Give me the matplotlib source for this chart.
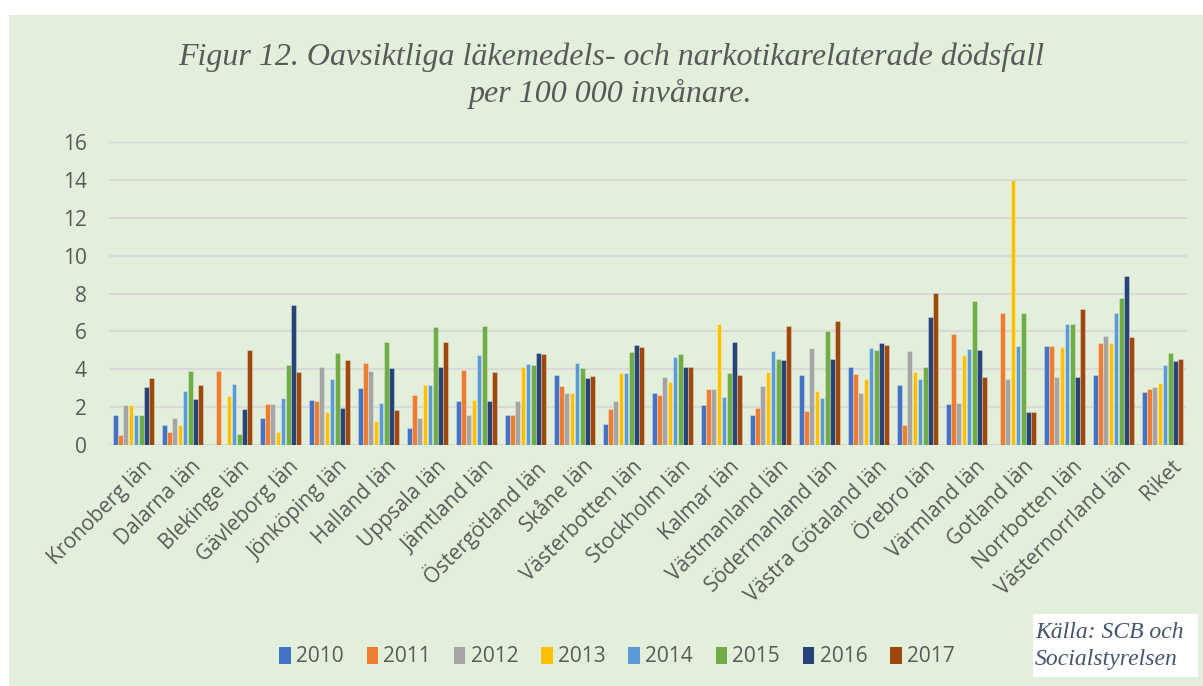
import matplotlib
matplotlib.use("Agg")
import matplotlib.pyplot as plt
import matplotlib.transforms as mtransforms
from matplotlib.patches import Rectangle, Patch
import numpy as np

categories = ["Kronoberg län", "Dalarna län", "Blekinge län", "Gävleborg län", "Jönköping län",
              "Halland län", "Uppsala län", "Jämtland län", "Östergötland län", "Skåne län",
              "Västerbotten län", "Stockholm län", "Kalmar län", "Västmanland län",
              "Södermanland län", "Västra Götaland län", "Örebro län", "Värmland län",
              "Gotland län", "Norrbotten län", "Västernorrland län", "Riket"]
years = ["2010", "2011", "2012", "2013", "2014", "2015", "2016", "2017"]

v2010 = [1.59, 1.06, 0.00, 1.42, 2.37, 3.01, 0.88, 2.34, 1.59, 3.68, 1.13, 2.73, 2.12, 1.56, 3.68, 4.11, 3.19, 2.18, 0.00, 5.23, 3.68, 2.81]
v2011 = [0.53, 0.71, 3.89, 2.16, 2.34, 4.32, 2.65, 3.96, 1.59, 3.12, 1.91, 2.62, 2.97, 1.95, 1.81, 3.75, 1.03, 5.86, 6.95, 5.23, 5.37, 2.98]
v2012 = [2.12, 1.42, 0.00, 2.16, 4.11, 3.93, 1.45, 1.56, 2.30, 2.76, 2.30, 3.58, 2.97, 3.12, 5.10, 2.73, 4.95, 2.21, 3.47, 3.61, 5.75, 3.05]
v2013 = [2.12, 1.06, 2.58, 0.71, 1.73, 1.27, 3.19, 2.37, 4.11, 2.73, 3.82, 3.33, 6.41, 3.86, 2.87, 3.47, 3.86, 4.74, 14.0, 5.19, 5.37, 3.30]
v2014 = [1.56, 2.87, 3.22, 2.48, 3.47, 2.23, 3.15, 4.74, 4.28, 4.35, 3.79, 4.64, 2.55, 4.96, 2.48, 5.13, 3.47, 5.09, 5.23, 6.39, 6.98, 4.25]
v2015 = [1.56, 3.89, 0.60, 4.25, 4.88, 5.42, 6.23, 6.30, 4.25, 4.07, 4.92, 4.81, 3.79, 4.53, 6.02, 5.03, 4.11, 7.61, 6.95, 6.39, 7.75, 4.84]
v2016 = [3.08, 2.44, 1.88, 7.40, 1.98, 4.07, 4.14, 2.34, 4.88, 3.54, 5.27, 4.11, 5.42, 4.50, 4.53, 5.38, 6.77, 5.02, 1.72, 3.58, 8.95, 4.46]
v2017 = [3.54, 3.15, 5.03, 3.86, 4.50, 1.84, 5.45, 3.86, 4.81, 3.65, 5.20, 4.11, 3.68, 6.30, 6.55, 5.27, 8.04, 3.58, 1.72, 7.16, 5.68, 4.56]
series = [v2010, v2011, v2012, v2013, v2014, v2015, v2016, v2017]
colors = ["#4472C4", "#ED7D31", "#A5A5A5", "#FFC000", "#5B9BD5", "#70AD47", "#264478", "#9E480E"]
yticks = [0, 2, 4, 6, 8, 10, 12, 14, 16]

W, H = 1203, 686
fig = plt.figure(figsize=(W / 100, H / 100), dpi=100)
fig.patch.set_facecolor("white")
fig.patches.append(Rectangle((9 / W, 0), 1 - 9 / W, 1 - 15 / H, transform=fig.transFigure,
                             facecolor="#E2EFDA", edgecolor="none", zorder=-10))

left, right, top, bottom = 109, 1187, 142, 445
ax = fig.add_axes([left / W, 1 - bottom / H, (right - left) / W, (bottom - top) / H])
ax.set_zorder(2)
ax.set_facecolor("none")

gray = "#595959"
fs = 15
x = np.arange(len(categories))
bw = 0.104
for i, (vals, c) in enumerate(zip(series, colors)):
    ax.bar(x + (i - 3.5) * bw, vals, width=bw * 0.95, color=c, edgecolor=(1, 1, 1, 0.35),
           linewidth=0.6, zorder=3, label=years[i])

ax.set_xlim(-0.5, len(categories) - 0.5)
ax.set_ylim(0, 16)
ax.set_yticks(yticks)
ax.yaxis.grid(True, color="#D9D9D9", linewidth=1.6, zorder=0)
ax.set_axisbelow(True)
for s in ax.spines.values():
    s.set_visible(False)
ax.tick_params(axis="y", length=0, pad=16, labelsize=fs, labelcolor=gray)
ax.tick_params(axis="x", length=0)
ax.set_yticklabels([str(t) for t in yticks], family="Open Sans")
ax.set_xticks(x)
ax.set_xticklabels([])

offset = mtransforms.ScaledTranslation(8 / 100, -11 / 100, fig.dpi_scale_trans)
trans = mtransforms.blended_transform_factory(ax.transData, ax.transAxes) + offset
for xi, lab in zip(x, categories):
    ax.text(xi, 0, lab, transform=trans, rotation=45, ha="right", va="top",
            rotation_mode="anchor", fontsize=fs, color=gray, family="Open Sans")

fig.text(0.508, 1 - 76 / H, "Figur 12. Oavsiktliga läkemedels- och narkotikarelaterade dödsfall\nper 100 000 invånare.",
         ha="center", va="center", fontsize=23, color=gray, family="Liberation Serif",
         style="italic", linespacing=1.3)

handles = [Patch(facecolor=c, edgecolor="none") for c in colors]
fig.legend(handles, years, loc="center", bbox_to_anchor=(617 / W, 1 - 657 / H), ncol=8,
           frameon=False, handlelength=0.55, handleheight=0.85, handletextpad=0.25,
           columnspacing=1.1, prop={"family": "Open Sans", "size": fs},
           labelcolor=gray)

fig.patches.append(Rectangle((1033 / W, 1 - 677 / H), (1198 - 1033) / W, (677 - 614) / H,
                             transform=fig.transFigure, facecolor="white", edgecolor="none", zorder=1))
fig.text(1035 / W, 1 - 632 / H, "Källa: SCB och", ha="left", va="center", fontsize=17,
         color="#44546A", family="Liberation Serif", style="italic", zorder=2)
fig.text(1035 / W, 1 - 659 / H, "Socialstyrelsen", ha="left", va="center", fontsize=17,
         color="#44546A", family="Liberation Serif", style="italic", zorder=2)

fig.savefig("out.png", dpi=100, facecolor="white")
